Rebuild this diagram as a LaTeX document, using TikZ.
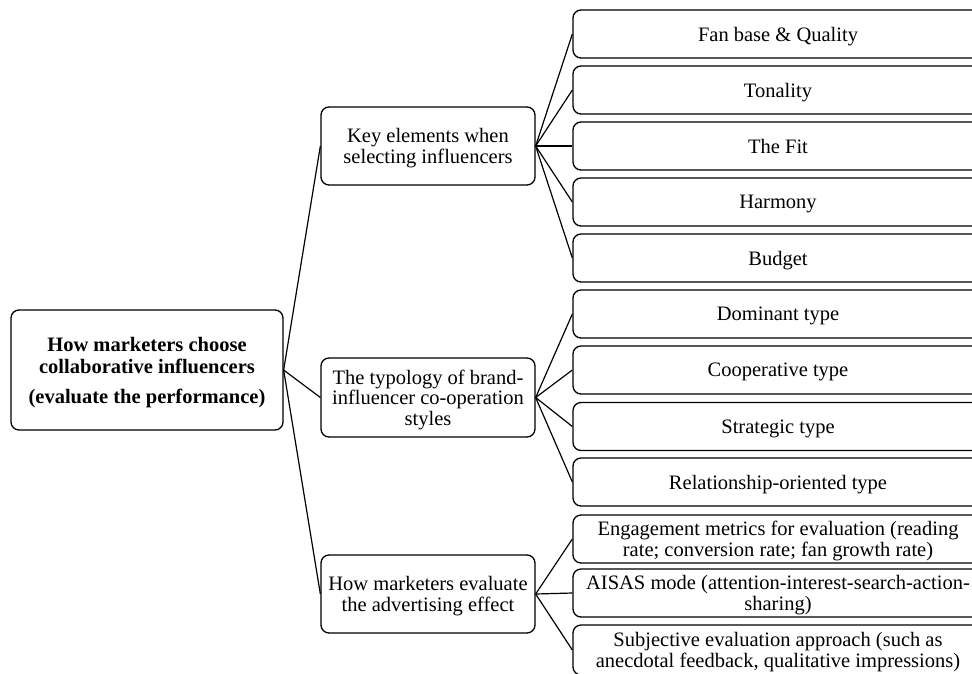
\documentclass[tikz,border=0pt]{standalone}
\usepackage{fontspec}
\setmainfont{Liberation Serif}
\begin{document}
\begin{tikzpicture}[x=1pt,y=-1pt,
  box/.style={draw=black, line width=1.3pt, rounded corners=8pt, fill=white,
    align=center, inner sep=0pt, text depth=0pt, font=\fontsize{20.5}{20.5}\selectfont},
  rootbox/.style={box, minimum width=272pt, minimum height=120pt,
    font=\fontsize{20.5}{22}\selectfont\bfseries},
  midbox/.style={box, minimum width=214pt, minimum height=78pt},
  leaftext/.style={align=center, inner sep=0pt, text depth=0pt, xshift=-25pt,
    font=\fontsize{20.5}{20.5}\selectfont},
  leaf/.style={box, minimum width=460pt, minimum height=48pt,
    label={[leaftext]center:#1}},
  link/.style={draw=black, line width=1.2pt}]
\useasboundingbox (0,0) rectangle (972,673);
\clip (0,0) rectangle (972,673);

% root
\node[rootbox] (root) at (147,370) {How marketers choose\\collaborative influencers\\[8pt](evaluate the performance)};

% second level
\node[midbox] (sel) at (428,146) {Key elements when\\selecting influencers};
\node[midbox, minimum height=79pt] (typ) at (428,397.5) {The typology of brand-\\influencer co-operation\\styles};
\node[midbox] (eva) at (428,594) {How marketers evaluate\\the advertising effect};

% leaves: boxes run on past the right edge, text centred at x = 778
\node[leaf={Fan base \& Quality}] (l1) at (803,34) {};
\node[leaf={Tonality}] (l2) at (803,90) {};
\node[leaf={The Fit}] (l3) at (803,146) {};
\node[leaf={Harmony}] (l4) at (803,202) {};
\node[leaf={Budget}] (l5) at (803,258) {};
\node[leaf={Dominant type}] (l6) at (803,314) {};
\node[leaf={Cooperative type}] (l7) at (803,370) {};
\node[leaf={Strategic type}] (l8) at (803,426.5) {};
\node[leaf={Relationship-oriented type}] (l9) at (803,482) {};
\node[leaf={Engagement metrics for evaluation (reading\\rate; conversion rate; fan growth rate)}] (l10) at (803,539) {};
\node[leaf={AISAS mode (attention-interest-search-action-\\sharing)}] (l11) at (803,593) {};
\node[leaf={Subjective evaluation approach (such as\\anecdotal feedback, qualitative impressions)}, minimum height=50pt] (l12) at (803,650) {};

% connectors
\foreach \m in {sel,typ,eva} \draw[link] (root.east) -- (\m.west);
\foreach \k in {1,...,5} \draw[link] (sel.east) -- (l\k.west);
\foreach \k in {6,...,9} \draw[link] (typ.east) -- (l\k.west);
\foreach \k in {10,11,12} \draw[link] (eva.east) -- (l\k.west);
\end{tikzpicture}
\end{document}
